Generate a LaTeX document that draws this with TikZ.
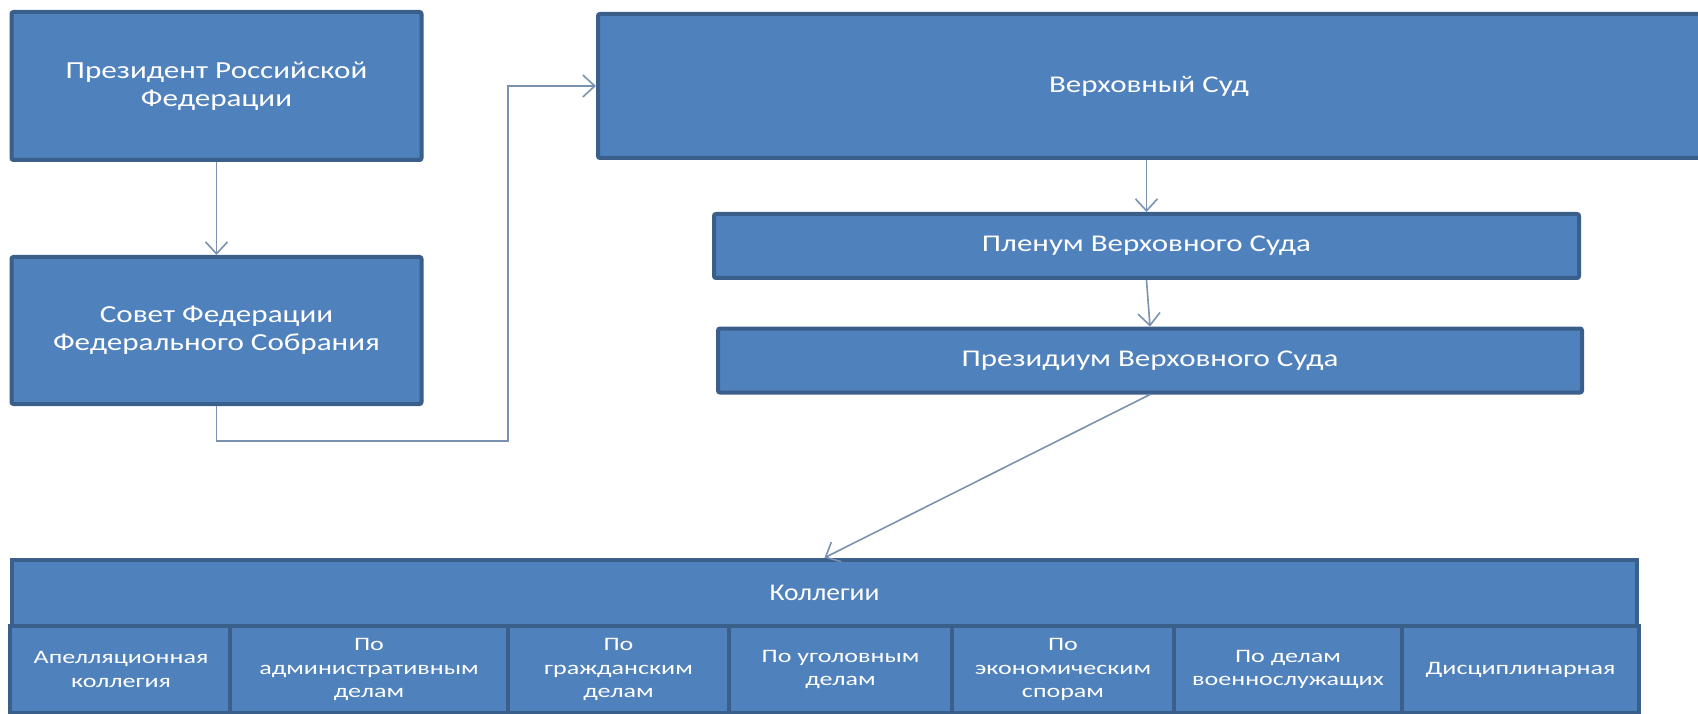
\documentclass[tikz,border=0pt]{standalone}
\usepackage{fontspec}
\setmainfont{Carlito}
\newfontfamily\wideA[FakeStretch=1.27]{Carlito}
\newfontfamily\wideB[FakeStretch=1.29]{Carlito}
\newfontfamily\wideC[FakeStretch=1.15]{Carlito}
\newfontfamily\wideD[FakeStretch=1.37]{Carlito}
\usetikzlibrary{arrows.meta}
\definecolor{boxfill}{HTML}{4F81BD}
\definecolor{boxline}{HTML}{3A5F8B}
\definecolor{connline}{HTML}{7A92B0}
\newcommand\fbig{\wideA\fontsize{24.5}{28.5}\selectfont}
\newcommand\fmid{\wideB\fontsize{24}{28}\selectfont}
\newcommand\fhead{\wideC\fontsize{24}{28}\selectfont}
\newcommand\fcell{\wideD\fontsize{19}{23.5}\selectfont}
\tikzset{
  box/.style={draw=boxline, fill=boxfill, line width=4pt, rounded corners=2pt,
    text=white, align=center, inner sep=0pt},
  cellbox/.style={draw=boxline, fill=boxfill, line width=4.5pt,
    text=white, align=center, inner sep=0pt, font=\fcell},
  conn/.style={draw=connline, line width=1.6pt,
    -{Straight Barb[length=12pt,width=22pt,line width=1.6pt]}},
}
\begin{document}
\begin{tikzpicture}[x=1pt,y=-1pt]
\fill[white] (0,0) rectangle (1698,714);
\useasboundingbox (0,0) rectangle (1698,714);

\node[box, minimum width=410pt, minimum height=148pt, font=\fbig] (pres) at (216.5,86)
  {Президент Российской\\Федерации};
\node[box, minimum width=410pt, minimum height=147pt, font=\fbig] (sovet) at (216.5,330.5)
  {Совет Федерации\\Федерального Собрания};
\node[box, minimum width=1102pt, minimum height=144pt, font=\fmid] (verh) at (1149,86)
  {Верховный Суд};
\node[box, minimum width=865pt, minimum height=64pt, font=\fmid] (plen) at (1146.5,246)
  {Пленум Верховного Суда};
\node[box, minimum width=864pt, minimum height=64pt, font=\fmid] (prez) at (1150,360.5)
  {Президиум Верховного Суда};

% Коллегии
\node[cellbox, minimum width=1625pt, minimum height=66pt, font=\fhead] (kh) at (824.5,593)
  {Коллегии};
\node[cellbox, minimum width=222pt, minimum height=87pt] (k1) at (121,669.5)
  {Апелляционная\\коллегия};
\node[cellbox, minimum width=278pt, minimum height=87pt] (k2) at (369,669.5)
  {По\\административным\\делам};
\node[cellbox, minimum width=221pt, minimum height=87pt] (k3) at (618.5,669.5)
  {По\\гражданским\\делам};
\node[cellbox, minimum width=223pt, minimum height=87pt] (k4) at (840.5,669.5)
  {По уголовным\\делам};
\node[cellbox, minimum width=222pt, minimum height=87pt] (k5) at (1063,669.5)
  {По\\экономическим\\спорам};
\node[cellbox, minimum width=228pt, minimum height=87pt] (k6) at (1288,669.5)
  {По делам\\военнослужащих};
\node[cellbox, minimum width=237pt, minimum height=87pt] (k7) at (1520.5,669.5)
  {Дисциплинарная};

% connectors
\coordinate (c1) at (508,441);
\draw[conn] (pres.south) -- (sovet.north);
\draw[conn] (sovet.south) |- (c1) |- (verh.west);
\draw[conn] (plen.north |- verh.south) -- (plen.north);
\draw[conn] (plen.south) -- (prez.north);
\draw[conn] (prez.south) -- (kh.north);
\end{tikzpicture}
\end{document}
